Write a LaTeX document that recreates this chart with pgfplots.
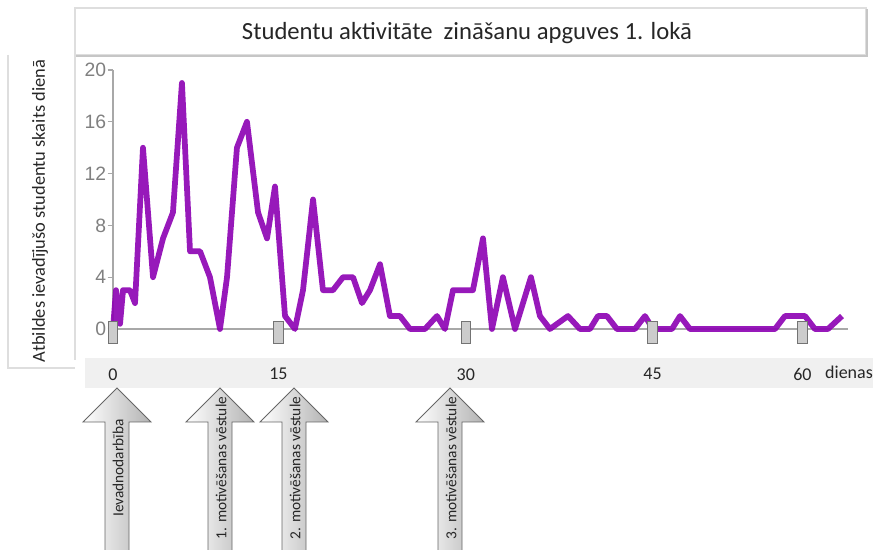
\documentclass[border=0pt]{standalone}
\usepackage{pgfplots}
\pgfplotsset{compat=1.18}
\usepackage{fontspec}
\setmainfont{Carlito}
\newfontfamily\arialf{Liberation Sans}
\definecolor{lineP}{RGB}{140,0,178}
\definecolor{axgray}{RGB}{168,168,168}
\definecolor{panelB}{RGB}{222,222,222}
\definecolor{bandG}{RGB}{240,240,240}
\pgfdeclareplotmark{handle}{%
  \pgfpathrectangle{\pgfpoint{-3.6pt}{-10.5pt}}{\pgfpoint{7.2pt}{16.5pt}}%
  \pgfusepathqfillstroke}
\begin{document}
\begin{tikzpicture}[x=0.75pt,y=0.75pt]
\path[use as bounding box] (0,0) rectangle (873,549);
\begin{scope}[yshift=411.75pt, yscale=-1]
% panels
\fill[bandG] (85,358) rectangle (873,388);
\draw[panelB, line width=0.8pt] (8,55) -- (8,368) -- (75,368);
\draw[panelB, line width=0.8pt] (75,8) -- (866,8) -- (866,55) -- (75,55) -- cycle;
\draw[gray!45, line width=1pt] (867,9) -- (867,56) -- (76,56);
\draw[panelB, line width=0.8pt] (75,55) -- (75,360);
\node[font=\fontsize{18.5}{22}\selectfont, text=black!85] at (467,33) {Studentu aktivitāte\ \ zināšanu apguves 1. lokā};
\node[font=\fontsize{13.8}{16}\selectfont, text=black!85, rotate=90] at (40,211) {Atbildes ievadījušo studentu skaits dienā};
\node[font=\fontsize{13.5}{16}\selectfont, text=black!85] at (849,372) {dienas};
% arrows
\foreach \c/\t in {117/Ievadnodarbība, 220/1. motivēšanas vēstule, 294/2. motivēšanas vēstule, 450/3. motivēšanas vēstule}{
  \shade[left color=white, right color=black!30]
    (\c,388) -- (\c+34,422) -- (\c+12,422) -- (\c+12,555) -- (\c-12,555) -- (\c-12,422) -- (\c-34,422) -- cycle;
  \draw[black!60, line width=0.7pt] (\c,388) -- (\c+34,422) -- (\c+12,422) -- (\c+12,555) -- (\c-12,555) -- (\c-12,422) -- (\c-34,422) -- cycle;
  \node[font=\fontsize{11.5}{14}\selectfont, text=black!85, rotate=90] at (\c+1,468) {\t};
}
\end{scope}
% axis
\begin{axis}[
  at={(84.75pt,165pt)}, anchor=origin,
  scale only axis, width=551.25pt, height=194.25pt,
  xmin=0, xmax=63.75, ymin=0, ymax=20,
  clip=false,
  axis x line*=bottom, axis y line*=left,
  axis line style={axgray, line width=1pt},
  ytick={0,4,8,12,16,20},
  tick align=outside,
  major tick length=4pt,
  y tick style={axgray, line width=0.8pt},
  x tick style={draw=none},
  xtick={0,14.35,30.6,46.8,59.8},
  xticklabels={0,15,30,45,60},
  /pgf/number format/assume math mode=true,
  yticklabel style={font=\arialf\fontsize{14.5}{16}\selectfont, text=black!50, inner sep=1pt},
  xticklabel style={font=\fontsize{13.5}{16}\selectfont, text=black!85, yshift=-22pt},
]
\addplot[lineP, line width=4.3pt, line join=round, opacity=0.9] coordinates {
(0,0) (0.26,3) (0.61,0.4) (0.87,3) (1.47,3) (1.91,2) (2.60,14) (3.47,4)
(4.34,7) (5.20,9) (5.98,19) (6.68,6) (7.55,6) (8.41,4) (9.28,0) (9.89,4)
(10.75,14) (11.62,16) (12.58,9) (13.36,7) (14.05,11) (14.92,1) (15.78,0)
(16.48,3) (17.35,10) (18.21,3) (19.08,3) (19.95,4) (20.82,4) (21.60,2)
(22.29,3) (23.16,5) (24.02,1) (24.89,1) (25.76,0) (27.06,0) (28.10,1)
(28.79,0) (29.49,3) (31.22,3) (32.09,7) (32.87,0) (33.82,4) (34.87,0)
(36.25,4) (37.03,1) (37.90,0) (39.46,1) (40.50,0) (41.37,0) (42.06,1)
(42.84,1) (43.71,0) (45.27,0) (46.14,1) (46.83,0) (48.48,0) (49.18,1)
(50.04,0) (57.42,0) (58.28,1) (60.02,1) (60.88,0) (62.01,0) (63.23,1)
};
\addplot[only marks, mark=handle, mark options={draw=black!55, fill=black!20, line width=0.6pt}] coordinates {
(0,0) (14.35,0) (30.6,0) (46.8,0) (59.8,0)
};
\end{axis}
\end{tikzpicture}
\end{document}
